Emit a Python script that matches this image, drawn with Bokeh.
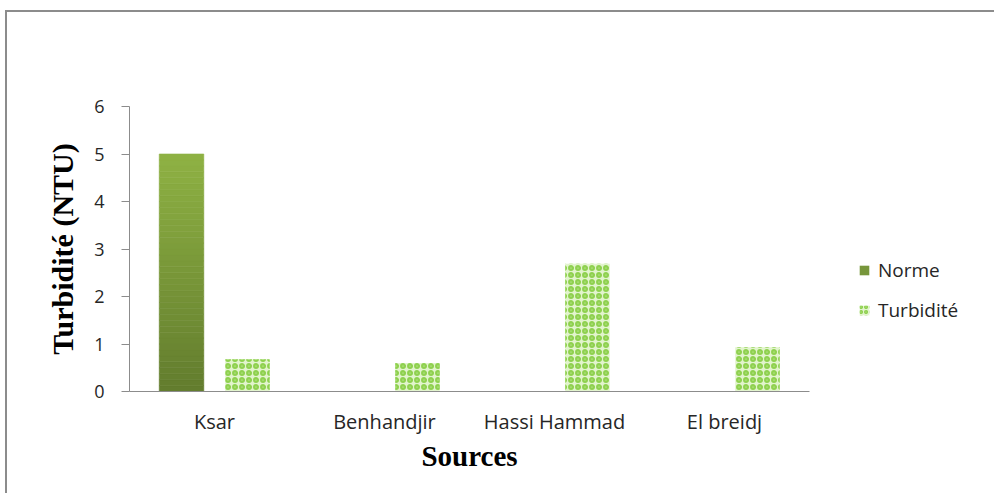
from bokeh.plotting import figure
from bokeh.models import (FactorRange, Range1d, ColumnDataSource, Legend, LegendItem,
                          FixedTicker)
from bokeh.layouts import row
from bokeh.transform import dodge
from bokeh.embed import file_html
from bokeh.resources import INLINE

# ---- data ----
categories = ["Ksar", "Benhandjir", "Hassi Hammad", "El breidj"]
norme = [5, 0, 0, 0]
turbidite = [0.68, 0.6, 2.69, 0.93]
y_ticks = [0, 1, 2, 3, 4, 5, 6]
series_names = ["Norme", "Turbidité"]

NORME_SWATCH = "#77963b"
TURB_FILL = "#e2f4cd"
TURB_HATCH = "#8fd14f"

# ---- main chart (content origin is offset by the outer border: 7 px left, 12 px top) ----
OX, OY = 7, 12
W_MAIN = 806
H = 493 - OY
p = figure(x_range=FactorRange(*categories, range_padding=0), y_range=Range1d(0, 6),
           width=W_MAIN, height=H, output_backend="svg", toolbar_location=None,
           min_border_left=129 - OX, min_border_right=W_MAIN - (809 - OX),
           min_border_top=106 - OY, min_border_bottom=H - (391 - OY))
p.outline_line_color = None
p.xgrid.visible = False
p.ygrid.visible = False
p.background_fill_color = "white"
p.border_fill_color = "white"

# Norme bars with vertical gradient (drawn as strips of each value)
N = 40
top_rgb = (143, 178, 68)
bot_rgb = (99, 125, 46)
sx, sb, st, sc = [], [], [], []
for cat, v in zip(categories, norme):
    for i in range(N):
        t = (i + 0.5) / N
        r = int(bot_rgb[0] + (top_rgb[0] - bot_rgb[0]) * t)
        g = int(bot_rgb[1] + (top_rgb[1] - bot_rgb[1]) * t)
        b = int(bot_rgb[2] + (top_rgb[2] - bot_rgb[2]) * t)
        sx.append(cat)
        sb.append(v * i / N)
        st.append(v * (i + 1) / N)
        sc.append("#%02x%02x%02x" % (r, g, b))
strip_src = ColumnDataSource(dict(x=sx, bottom=sb, top=st, color=sc))
p.vbar(x=dodge("x", -0.194, range=p.x_range), bottom="bottom", top="top", width=0.262,
       source=strip_src, fill_color="color", line_color="color", line_width=0.6)

turb_src = ColumnDataSource(dict(x=categories, top=turbidite))
p.vbar(x=dodge("x", 0.194, range=p.x_range), top="top", width=0.262, source=turb_src,
       fill_color=TURB_FILL, line_color=None,
       hatch_pattern="ring", hatch_color=TURB_HATCH, hatch_scale=7, hatch_weight=2.4)

# ---- axes ----
ax_col = "#8c8c8c"
p.yaxis.ticker = FixedTicker(ticks=y_ticks)
p.yaxis.axis_line_color = ax_col
p.yaxis.major_tick_line_color = ax_col
p.yaxis.major_tick_out = 8
p.yaxis.major_tick_in = 0
p.yaxis.minor_tick_line_color = None
p.yaxis.major_label_standoff = 17
p.yaxis.major_label_text_font = "Open Sans"
p.yaxis.major_label_text_font_size = "18px"
p.yaxis.major_label_text_color = "#262626"
p.yaxis.axis_label = "Turbidité (NTU)"
p.yaxis.axis_label_text_font = "Liberation Serif"
p.yaxis.axis_label_text_font_style = "bold"
p.yaxis.axis_label_text_font_size = "30px"
p.yaxis.axis_label_text_color = "black"
p.yaxis.axis_label_standoff = 12

p.xaxis.axis_line_color = ax_col
p.xaxis.major_tick_line_color = None
p.xaxis.minor_tick_line_color = None
p.xaxis.major_tick_out = 0
p.xaxis.major_tick_in = 0
p.xaxis.major_label_standoff = 16
p.xaxis.major_label_text_font = "Open Sans"
p.xaxis.major_label_text_font_size = "20px"
p.xaxis.major_label_text_color = "#262626"
p.xaxis.axis_label = "Sources"
p.xaxis.axis_label_text_font = "Liberation Serif"
p.xaxis.axis_label_text_font_style = "bold"
p.xaxis.axis_label_text_font_size = "29px"
p.xaxis.axis_label_text_color = "black"
p.xaxis.axis_label_standoff = 2

# ---- legend panel (small companion figure to the right) ----
W_LEG = 994 - OX - W_MAIN
q = figure(width=W_LEG, height=H, output_backend="svg", toolbar_location=None,
           x_axis_type=None, y_axis_type=None, x_range=Range1d(0, 1), y_range=Range1d(0, 1),
           min_border=0)
q.outline_line_color = None
q.xgrid.visible = False
q.ygrid.visible = False
q.border_fill_color = "white"
# zero-area swatch carriers (nothing visible is drawn by these)
l_norme = q.vbar(x=[0], top=[0], width=0, fill_color=NORME_SWATCH, line_color=None)
l_turb = q.vbar(x=[0], top=[0], width=0, fill_color=TURB_FILL, line_color=None,
                hatch_pattern="ring", hatch_color=TURB_HATCH, hatch_scale=5, hatch_weight=1.6)
legend = Legend(items=[LegendItem(label=series_names[0], renderers=[l_norme]),
                       LegendItem(label=series_names[1], renderers=[l_turb])],
                location=(858 - OX - W_MAIN, 68), orientation="vertical",
                glyph_width=12, glyph_height=12, label_height=20, spacing=14,
                label_standoff=8, padding=0, margin=0,
                border_line_color=None, background_fill_alpha=0,
                label_text_font="Open Sans", label_text_font_size="19px",
                label_text_color="#262626")
q.add_layout(legend)

layout = row(p, q, spacing=0,
             styles={"border-top": "2px solid #8c8c8c", "border-left": "2px solid #8c8c8c",
                     "margin-top": "10px", "margin-left": "5px"})

open("out.html", "w").write(file_html(layout, INLINE))
